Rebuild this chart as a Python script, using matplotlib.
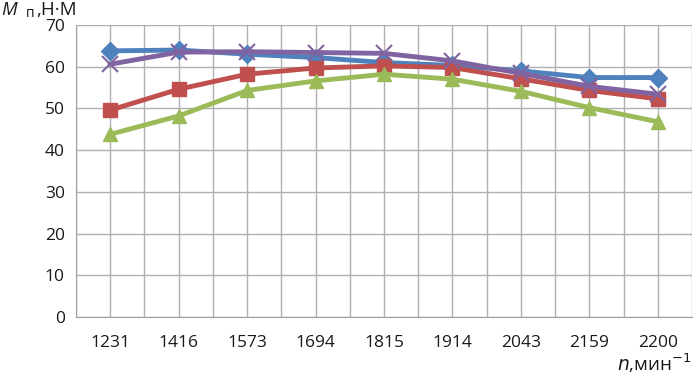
import matplotlib
matplotlib.use('Agg')
import matplotlib.pyplot as plt
import numpy as np

plt.rcParams['font.family'] = ['Open Sans', 'DejaVu Sans']

# crankshaft speed, rpm
speeds = ['1231', '1416', '1573', '1694', '1815', '1914', '2043', '2159', '2200']

# torque, N*m
torque_blue = [63.8, 64.0, 63.0, 62.2, 61.0, 60.3, 59.0, 57.4, 57.4]
torque_red = [49.6, 54.6, 58.2, 59.7, 60.2, 59.8, 57.1, 54.3, 52.3]
torque_green = [43.8, 48.2, 54.3, 56.6, 58.2, 57.0, 54.1, 50.2, 46.8]
torque_purple = [60.6, 63.5, 63.6, 63.4, 63.2, 61.4, 58.4, 55.3, 53.4]

fig = plt.figure(figsize=(6.94, 3.77), dpi=100)
ax = fig.add_axes([76 / 694, 1 - 317 / 377, 616 / 694, 292 / 377])

x = np.arange(len(speeds))
ax.plot(x, torque_blue, color='#4F81BD', marker='D', ms=9, lw=3.5)
ax.plot(x, torque_red, color='#C0504D', marker='s', ms=10, lw=3.5)
ax.plot(x, torque_green, color='#9BBB59', marker='^', ms=10, lw=3.5)
ax.plot(x, torque_purple, color='#8064A2', marker='x', ms=11, mew=1.5, lw=3.5)

ax.set_xlim(-0.5, len(speeds) - 0.5)
ax.set_ylim(0, 70)
ax.set_yticks(range(0, 71, 10))
ax.set_xticks(x)
ax.set_xticklabels(speeds)
ax.set_xticks(np.arange(-0.5, len(speeds), 1.0), minor=True)

ax.grid(True, which='both', axis='x', color='#B0B0B0', lw=1)
ax.grid(True, which='major', axis='y', color='#B0B0B0', lw=1)
ax.set_axisbelow(True)
ax.tick_params(which='both', length=0, labelsize=12.5, colors='#1a1a1a')
ax.tick_params(axis='x', pad=13)
ax.tick_params(axis='y', pad=8)
for s in ax.spines.values():
    s.set_visible(False)
ax.spines['left'].set_visible(True)
ax.spines['bottom'].set_visible(True)
ax.spines['left'].set_color('#A0A0A0')
ax.spines['bottom'].set_color('#A0A0A0')

# y axis title: italic M with small subscript п
fig.text(1 / 694, 1 - 15 / 377, 'M', style='italic', ha='left', va='baseline',
         fontsize=13.5, color='#1a1a1a')
fig.text(26 / 694, 1 - 17 / 377, 'п', ha='left', va='baseline',
         fontsize=10, color='#1a1a1a')
fig.text(36 / 694, 1 - 15 / 377, ',Н·М', ha='left', va='baseline',
         fontsize=13.5, color='#1a1a1a')

fig.text(0.997, 0.005, r'$n$,мин$^{-1}$', ha='right', va='bottom', fontsize=13.5, color='#1a1a1a')

fig.savefig('out.png', dpi=100)
